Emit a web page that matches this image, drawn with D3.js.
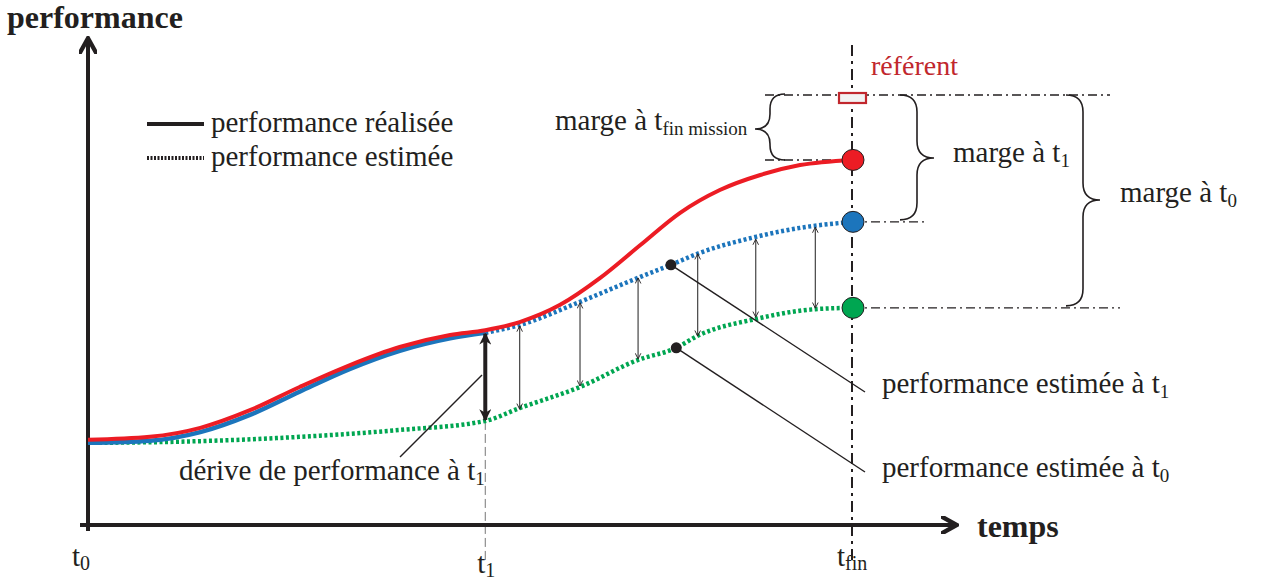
<!DOCTYPE html>
<html>
<head>
<meta charset="utf-8">
<script src="https://cdn.jsdelivr.net/npm/d3@7"></script>
<style>
  body { margin: 0; background: #fff; }
  svg { display: block; }
  text { font-family: "Liberation Serif", "Times New Roman", serif; fill: #231f20; }
</style>
</head>
<body>
<div id="chart"></div>
<script>
// time positions: t0 = 0, t1 = 52, tfin = 100 ; performance in arbitrary units
var tReal = [0, 8.1, 14.7, 21.2, 27.7, 34.3, 40.8, 47.4, 52, 56.5, 61.8, 67, 72.3, 77.5, 82.7, 88, 93.2, 100];
var perfReal = [19.8, 20.5, 22.6, 26.7, 32.1, 37.2, 41.4, 44.2, 45.3, 47.2, 51.2, 57.4, 65.1, 72.6, 77.9, 81.4, 83.7, 84.9];

var tBlueReal = [0, 8.1, 14.7, 21.2, 27.7, 34.3, 40.8, 47.4, 52];
var perfBlueReal = [19.1, 19.6, 21.6, 25.6, 31.0, 36.3, 40.5, 43.4, 44.7];

var tEstT1 = [52, 56.5, 64.4, 72.3, 76.3, 80.1, 87.4, 93.2, 100];
var perfEstT1 = [44.7, 46.5, 51.9, 57.7, 60.5, 63.3, 67.0, 69.1, 70.5];

var tEstT0 = [0, 14.7, 27.7, 40.8, 52, 56.5, 64.4, 72, 77, 79.8, 87.4, 95.2, 100];
var perfEstT0 = [19.1, 19.5, 20.5, 22.1, 24.2, 27.2, 32.1, 38.4, 41.2, 44.0, 47.9, 50.2, 50.5];

// gap arrows between the two estimates
var gapT = [56.5, 64.4, 72, 79.8, 87.4, 95.2];
var gapTop = [46.5, 51.9, 57.7, 63.3, 66.7, 69.5];
var gapBottom = [26.7, 32.1, 38.4, 43.7, 48.1, 50.2];

var tickT = [0, 52, 100];
var tickLabels = ['0', '1', 'fin'];

var referent = 100;
var endReal = 84.9, endT1 = 70.5, endT0 = 50.5;

var W = 1263, H = 581;
var x = d3.scaleLinear().domain([0, 100]).range([88, 852]);
var y = d3.scaleLinear().domain([0, 100]).range([525, 95]);

var red = '#ec1c24', blue = '#1c75bc', green = '#00a651';

var svg = d3.select('#chart').append('svg').attr('width', W).attr('height', H);
var defs = svg.append('defs');

defs.append('marker').attr('id', 'open').attr('viewBox', '0 0 10 10')
  .attr('refX', 9).attr('refY', 5).attr('markerWidth', 7).attr('markerHeight', 7)
  .attr('markerUnits', 'userSpaceOnUse').attr('orient', 'auto-start-reverse')
  .append('path').attr('d', 'M1,1 L9,5 L1,9').attr('fill', 'none').attr('stroke', '#231f20').attr('stroke-width', 1.3);

defs.append('marker').attr('id', 'bold').attr('viewBox', '0 0 10 10')
  .attr('refX', 9).attr('refY', 5).attr('markerWidth', 18).attr('markerHeight', 12)
  .attr('markerUnits', 'userSpaceOnUse').attr('orient', 'auto-start-reverse')
  .append('path').attr('d', 'M0,0 L10,5 L0,10 L3,5 Z').attr('fill', '#231f20');

defs.append('marker').attr('id', 'axis').attr('viewBox', '0 0 10 10')
  .attr('refX', 8).attr('refY', 5).attr('markerWidth', 18).attr('markerHeight', 18)
  .attr('markerUnits', 'userSpaceOnUse').attr('orient', 'auto')
  .append('path').attr('d', 'M0,0 L9,5 L0,10').attr('fill', 'none').attr('stroke', '#231f20').attr('stroke-width', 2.4);

function pts(ts, vs) { return ts.map(function (t, i) { return [t, vs[i]]; }); }
var line = d3.line().x(function (d) { return x(d[0]); }).y(function (d) { return y(d[1]); })
  .curve(d3.curveMonotoneX);

// vertical guides
svg.append('line').attr('x1', x(tickT[1])).attr('x2', x(tickT[1]))
  .attr('y1', y(perfEstT0[4])).attr('y2', 560)
  .attr('stroke', '#777').attr('stroke-width', 1).attr('stroke-dasharray', '9,4');
svg.append('line').attr('x1', x(100)).attr('x2', x(100)).attr('y1', 45).attr('y2', 560)
  .attr('stroke', '#231f20').attr('stroke-width', 2).attr('stroke-dasharray', '11,5,3,5');

// horizontal dash-dot guides
var dd = '9,4,2,4';
function hguide(x1, x2, v) {
  svg.append('line').attr('x1', x1).attr('x2', x2).attr('y1', y(v)).attr('y2', y(v))
    .attr('stroke', '#231f20').attr('stroke-width', 1.4).attr('stroke-dasharray', dd);
}
hguide(765, 1110, referent);
hguide(765, x(100), endReal);
hguide(x(100), 925, endT1);
hguide(x(100), 1120, endT0);

// axes
svg.append('line').attr('x1', 80).attr('x2', 955).attr('y1', 525).attr('y2', 525)
  .attr('stroke', '#231f20').attr('stroke-width', 4).attr('marker-end', 'url(#axis)');
svg.append('line').attr('x1', 88).attr('x2', 88).attr('y1', 531).attr('y2', 40)
  .attr('stroke', '#231f20').attr('stroke-width', 4).attr('marker-end', 'url(#axis)');

// curves
svg.append('path').attr('d', line(pts(tEstT0, perfEstT0))).attr('fill', 'none')
  .attr('stroke', green).attr('stroke-width', 4.5).attr('stroke-dasharray', '3,2.5');
svg.append('path').attr('d', line(pts(tEstT1, perfEstT1))).attr('fill', 'none')
  .attr('stroke', blue).attr('stroke-width', 4.5).attr('stroke-dasharray', '3,2.5');
svg.append('path').attr('d', line(pts(tBlueReal, perfBlueReal))).attr('fill', 'none')
  .attr('stroke', blue).attr('stroke-width', 4.5);
svg.append('path').attr('d', line(pts(tReal, perfReal))).attr('fill', 'none')
  .attr('stroke', red).attr('stroke-width', 4);

// gap arrows
gapT.forEach(function (t, i) {
  svg.append('line').attr('x1', x(t)).attr('x2', x(t))
    .attr('y1', y(gapTop[i]) + 1).attr('y2', y(gapBottom[i]) - 1)
    .attr('stroke', '#444').attr('stroke-width', 1.2)
    .attr('marker-start', 'url(#open)').attr('marker-end', 'url(#open)');
});

// drift at t1
svg.append('line').attr('x1', x(52)).attr('x2', x(52))
  .attr('y1', y(perfBlueReal[8]) + 1).attr('y2', y(perfEstT0[4]) - 1)
  .attr('stroke', '#231f20').attr('stroke-width', 4)
  .attr('marker-start', 'url(#bold)').attr('marker-end', 'url(#bold)');

// leader lines
svg.append('line').attr('x1', 482).attr('y1', 375).attr('x2', 400).attr('y2', 457)
  .attr('stroke', '#231f20').attr('stroke-width', 1.4);
svg.append('line').attr('x1', x(tEstT1[4])).attr('y1', y(perfEstT1[4])).attr('x2', 865).attr('y2', 392)
  .attr('stroke', '#231f20').attr('stroke-width', 1.4);
svg.append('line').attr('x1', x(tEstT0[8])).attr('y1', y(perfEstT0[8])).attr('x2', 865).attr('y2', 472)
  .attr('stroke', '#231f20').attr('stroke-width', 1.4);
svg.append('circle').attr('cx', x(tEstT1[4])).attr('cy', y(perfEstT1[4])).attr('r', 5.5).attr('fill', '#231f20');
svg.append('circle').attr('cx', x(tEstT0[8])).attr('cy', y(perfEstT0[8])).attr('r', 5.5).attr('fill', '#231f20');

// end markers
[[endReal, red], [endT1, blue], [endT0, green]].forEach(function (m) {
  svg.append('ellipse').attr('cx', x(100) + 1).attr('cy', y(m[0])).attr('rx', 11).attr('ry', 10.5)
    .attr('fill', m[1]).attr('stroke', '#231f20').attr('stroke-width', 1);
});
svg.append('rect').attr('x', x(100) - 13).attr('y', y(referent) - 2).attr('width', 27).attr('height', 10)
  .attr('fill', '#f2f2f2').attr('stroke', '#c1272d').attr('stroke-width', 2.2);

// braces
function brace(bx, y1, y2, ym, s, w) {
  var p = d3.path();
  p.moveTo(bx - s * w, y1);
  p.quadraticCurveTo(bx, y1, bx, y1 + w);
  p.lineTo(bx, ym - w);
  p.quadraticCurveTo(bx, ym, bx + s * w, ym);
  p.quadraticCurveTo(bx, ym, bx, ym + w);
  p.lineTo(bx, y2 - w);
  p.quadraticCurveTo(bx, y2, bx - s * w, y2);
  svg.append('path').attr('d', p.toString()).attr('fill', 'none')
    .attr('stroke', '#231f20').attr('stroke-width', 1.6);
}
brace(770, y(referent) - 1, y(endReal), 129, -1, 15);
brace(917, y(referent), y(endT1) - 2, 158, 1, 17);
brace(1083, y(referent), y(endT0) - 2, 200, 1, 17);

// texts
function label(tx, ty, main, sub, size, subSize, fill) {
  var t = svg.append('text').attr('x', tx).attr('y', ty).style('font-size', size + 'px');
  if (fill) t.style('fill', fill);
  t.append('tspan').text(main);
  if (sub) t.append('tspan').attr('dy', 5).style('font-size', subSize + 'px').text(sub);
  return t;
}
svg.append('text').attr('x', 7).attr('y', 28).style('font-size', '32px').style('font-weight', 'bold').text('performance');
svg.append('text').attr('x', 977).attr('y', 537).style('font-size', '32px').style('font-weight', 'bold').text('temps');

label(871, 75, 'référent', null, 28, 0, '#c1272d');
label(555, 130, 'marge à t', 'fin mission', 29, 19);
label(953, 162, 'marge à t', '1', 29, 19);
label(1120, 202, 'marge à t', '0', 29, 19);
label(882, 393, 'performance estimée à t', '1', 29, 19);
label(882, 477, 'performance estimée à t', '0', 29, 19);
label(179, 480, 'dérive de performance à t', '1', 29, 19);

// legend
svg.append('line').attr('x1', 147).attr('x2', 204).attr('y1', 124).attr('y2', 124)
  .attr('stroke', '#231f20').attr('stroke-width', 4);
svg.append('line').attr('x1', 147).attr('x2', 204).attr('y1', 158).attr('y2', 158)
  .attr('stroke', '#231f20').attr('stroke-width', 4).attr('stroke-dasharray', '2,1.5');
label(211, 132, 'performance réalisée', null, 29, 0);
label(211, 166, 'performance estimée', null, 29, 0);

// time ticks
tickT.forEach(function (t, i) {
  var tx = x(t) - 16;
  if (i === 1) tx = x(t) - 8;
  if (i === 2) tx = x(t) - 15;
  var tt = svg.append('text').attr('x', tx).attr('y', i === 1 ? 573 : 566).style('font-size', '29px');
  tt.append('tspan').text('t');
  tt.append('tspan').attr('dy', 4).style('font-size', '20px').text(tickLabels[i]);
});
</script>
</body>
</html>
